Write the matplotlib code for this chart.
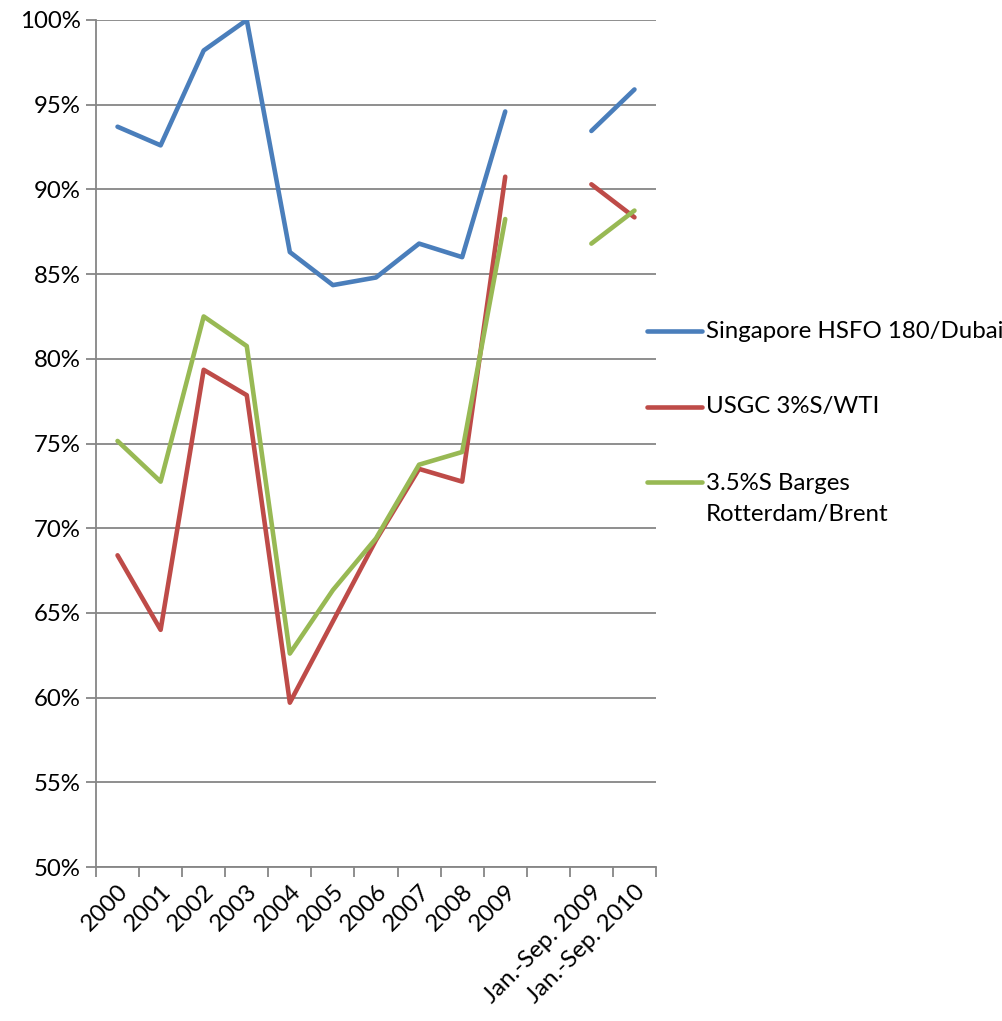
import numpy as np
import matplotlib
matplotlib.use("Agg")
import matplotlib.pyplot as plt
from matplotlib.lines import Line2D
from matplotlib.ticker import FuncFormatter

plt.rcParams['font.family'] = ['Lato', 'DejaVu Sans']

categories = ['2000', '2001', '2002', '2003', '2004', '2005', '2006', '2007',
              '2008', '2009', '', 'Jan.-Sep. 2009', 'Jan.-Sep. 2010']

singapore = [93.7, 92.6, 98.2, 100.0, 86.3, 84.35, 84.8, 86.8, 86.0, 94.6,
             None, 93.45, 95.9]
usgc = [68.4, 64.0, 79.35, 77.85, 59.7, 64.5, 69.3, 73.5, 72.75, 90.75,
        None, 90.3, 88.35]
barges = [75.15, 72.75, 82.5, 80.75, 62.6, 66.35, 69.4, 73.75, 74.5, 88.25,
          None, 86.8, 88.75]

labels = ['Singapore HSFO 180/Dubai', 'USGC 3%S/WTI',
          '3.5%S Barges\nRotterdam/Brent']
colors = ['#4A7EBB', '#BE4B48', '#98B954']
FS = 17.3


def to_arr(vals):
    return np.array([np.nan if v is None else v for v in vals], dtype=float)


fig = plt.figure(figsize=(10.03, 10.21), dpi=100)
ax = fig.add_axes([96 / 1003, 1 - 867 / 1021, 560 / 1003, 847 / 1021])

x = np.arange(len(categories))
for series, color in zip([singapore, usgc, barges], colors):
    ax.plot(x, to_arr(series), color=color, linewidth=3.3,
            solid_capstyle='round', solid_joinstyle='round', zorder=3)

ax.set_xlim(-0.5, len(categories) - 0.5)
ax.set_ylim(50, 100)
ax.set_yticks(np.arange(50, 101, 5))
ax.yaxis.set_major_formatter(FuncFormatter(lambda v, p: f'{v:.0f}%'))
ax.grid(axis='y', color='#868686', linewidth=1.3, zorder=1)

ax.set_xticks(x)
ax.set_xticklabels(categories, rotation=45, ha='right', rotation_mode='anchor')
ax.set_xticks(np.arange(-0.5, len(categories)), minor=True)
ax.tick_params(axis='x', which='major', length=0, pad=10, labelsize=FS,
               colors='black')
ax.tick_params(axis='x', which='minor', length=7, width=1.3, color='#868686')
ax.tick_params(axis='y', length=7, width=1.3, color='#868686', pad=4,
               labelsize=FS)

for side in ['top', 'right']:
    ax.spines[side].set_visible(False)
for side in ['left', 'bottom']:
    ax.spines[side].set_color('#868686')
    ax.spines[side].set_linewidth(1.3)

# legend drawn at the right, handle level with the first text line
leg_y = [331, 407, 482]
for lab, color, yy in zip(labels, colors, leg_y):
    fy = 1 - yy / 1021
    fig.add_artist(Line2D([647 / 1003, 702 / 1003], [fy, fy], color=color,
                          linewidth=3.3, solid_capstyle='round'))
    if '\n' in lab:
        fig.text(706 / 1003, fy + 9 / 1021, lab, fontsize=FS, va='top',
                 linespacing=1.6)
    else:
        fig.text(706 / 1003, fy, lab, fontsize=FS, va='center')

fig.savefig('out.png', dpi=100)
